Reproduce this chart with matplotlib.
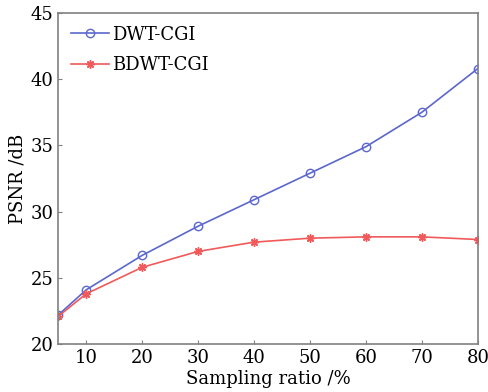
import matplotlib
matplotlib.use("Agg")
import matplotlib.pyplot as plt

# sampling ratio (%) and PSNR (dB)
ratio = [5, 10, 20, 30, 40, 50, 60, 70, 80]
psnr_dwt = [22.2, 24.1, 26.7, 28.9, 30.9, 32.9, 34.9, 37.5, 40.8]
psnr_bdwt = [22.1, 23.8, 25.8, 27.0, 27.7, 28.0, 28.1, 28.1, 27.9]
xticks = [10, 20, 30, 40, 50, 60, 70, 80]
yticks = [20, 25, 30, 35, 40, 45]

plt.rcParams['font.family'] = ['DejaVu Serif']

fig, ax = plt.subplots(figsize=(4.89, 3.92), dpi=100)
fig.subplots_adjust(left=0.119, right=0.977, top=0.967, bottom=0.122)

ax.plot(ratio, psnr_dwt, color='#5b67cc', marker='o', markersize=6,
        markerfacecolor='none', markeredgewidth=1, linewidth=1.2, label='DWT-CGI')
ax.plot(ratio, psnr_bdwt, color='#f05a5a', marker=(8, 2, 0), markersize=6,
        markeredgewidth=1.0, linewidth=1.2, label='BDWT-CGI')

ax.set_xlim(5, 80)
ax.set_ylim(20, 45)
ax.set_xticks(xticks)
ax.set_yticks(yticks)
ax.tick_params(direction='in', labelsize=13, length=3, color='#808080')
for s in ax.spines.values():
    s.set_color('#808080')
    s.set_linewidth(1.2)

ax.set_xlabel('Sampling ratio /%', fontsize=13, labelpad=2)
ax.set_ylabel('PSNR /dB', fontsize=13, labelpad=3)

ax.legend(loc='upper left', frameon=False, fontsize=13, handlelength=2.1,
          borderaxespad=0.3, labelspacing=0.7, handletextpad=0.2)

fig.savefig('out.png')
